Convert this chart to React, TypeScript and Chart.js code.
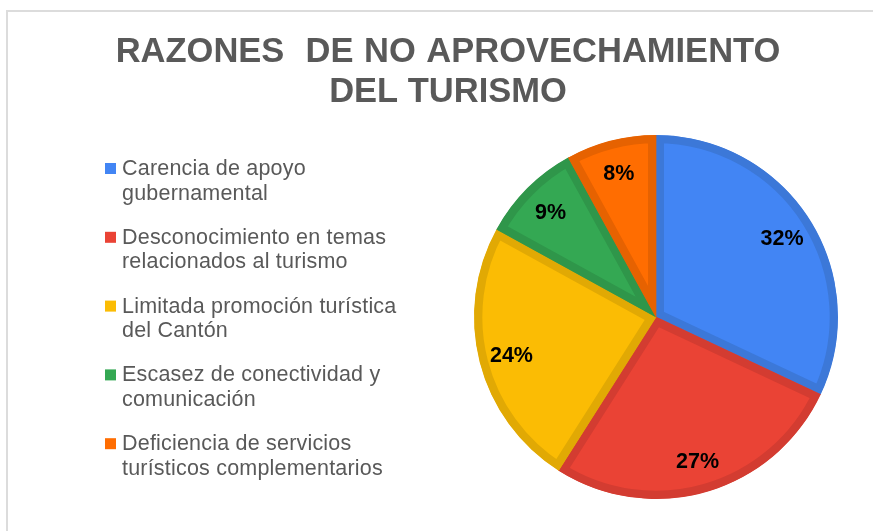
import React, { useEffect, useRef } from 'react';
import { Chart, registerables } from 'chart.js';

Chart.register(...registerables);

const titleLines = ['RAZONES  DE NO APROVECHAMIENTO', 'DEL TURISMO'];
const categories: string[][] = [
  ['Carencia de apoyo', 'gubernamental'],
  ['Desconocimiento en temas', 'relacionados al turismo'],
  ['Limitada promoción turística', 'del Cantón'],
  ['Escasez de conectividad y', 'comunicación'],
  ['Deficiencia de servicios', 'turísticos complementarios'],
];
const values = [32, 27, 24, 9, 8];
const fillColors = ['#4285F4', '#EA4335', '#FBBC04', '#34A853', '#FF6D01'];
const borderColors = ['#3C78D8', '#D33C31', '#E1A904', '#2F964A', '#E66201'];

const FONT = "Arial, 'Liberation Sans', sans-serif";

const titlePlugin = {
  id: 'customTitle',
  afterDraw(chart: any) {
    const ctx = chart.ctx;
    ctx.save();
    ctx.font = `bold 34.5px ${FONT}`;
    ctx.fillStyle = '#595959';
    ctx.textAlign = 'center';
    ctx.textBaseline = 'alphabetic';
    titleLines.forEach((line, i) => {
      (ctx as any).wordSpacing = i === 0 ? '1px' : '0px';
      ctx.fillText(line, 448, 62 + i * 40);
    });
    ctx.restore();
  },
};

const legendPlugin = {
  id: 'customLegend',
  afterDraw(chart: any) {
    const ctx = chart.ctx;
    const labels = chart.data.labels as string[][];
    const colors = chart.data.datasets[0].backgroundColor as string[];
    ctx.save();
    ctx.font = `21.5px ${FONT}`;
    (ctx as any).letterSpacing = '0.2px';
    ctx.textAlign = 'left';
    ctx.textBaseline = 'alphabetic';
    labels.forEach((lines, i) => {
      const base = 175 + i * 68.8;
      ctx.fillStyle = colors[i];
      ctx.fillRect(105, base - 12, 11, 11);
      ctx.fillStyle = '#595959';
      lines.forEach((line, j) => {
        ctx.fillText(line, 122, base + j * 24.5);
      });
    });
    ctx.restore();
  },
};

const sliceLabelPlugin = {
  id: 'sliceLabels',
  afterDatasetsDraw(chart: any) {
    const ctx = chart.ctx;
    const meta = chart.getDatasetMeta(0);
    const data = chart.data.datasets[0].data as number[];
    ctx.save();
    ctx.font = `bold 21.5px ${FONT}`;
    ctx.fillStyle = '#000000';
    ctx.textAlign = 'center';
    ctx.textBaseline = 'middle';
    meta.data.forEach((arc: any, i: number) => {
      const { x, y, startAngle, endAngle, outerRadius } = arc.getProps(
        ['x', 'y', 'startAngle', 'endAngle', 'outerRadius'],
        true
      );
      const mid = (startAngle + endAngle) / 2;
      const r = outerRadius * 0.82;
      ctx.fillText(`${data[i]}%`, x + Math.cos(mid) * r, y + Math.sin(mid) * r + 2);
    });
    ctx.restore();
  },
};

export default function App() {
  const canvasRef = useRef<HTMLCanvasElement | null>(null);

  useEffect(() => {
    if (!canvasRef.current) return;
    const chart = new Chart(canvasRef.current, {
      type: 'pie',
      data: {
        labels: categories,
        datasets: [
          {
            data: values,
            backgroundColor: fillColors,
            borderColor: borderColors,
            borderWidth: 8,
            hoverBorderWidth: 8,
            borderAlign: 'inner',
            borderJoinStyle: 'miter',
          } as any,
        ],
      },
      options: {
        animation: false,
        responsive: false,
        maintainAspectRatio: false,
        layout: {
          padding: { left: 474, right: 35, top: 135, bottom: 32 },
        },
        plugins: {
          legend: { display: false },
          title: { display: false },
          tooltip: { enabled: false },
        },
        events: [],
      },
      plugins: [titlePlugin, legendPlugin, sliceLabelPlugin],
    });
    return () => chart.destroy();
  }, []);

  return (
    <div
      style={{
        position: 'absolute',
        left: 0,
        top: 0,
        width: 873,
        height: 531,
        background: '#ffffff',
        overflow: 'hidden',
      }}
    >
      <div
        style={{
          position: 'absolute',
          left: 6,
          top: 10,
          right: -4,
          bottom: -4,
          borderTop: '2px solid #dcdcdc',
          borderLeft: '2px solid #dcdcdc',
        }}
      />
      <canvas
        ref={canvasRef}
        width={873}
        height={531}
        style={{ position: 'absolute', left: 0, top: 0, width: 873, height: 531 }}
      />
    </div>
  );
}
